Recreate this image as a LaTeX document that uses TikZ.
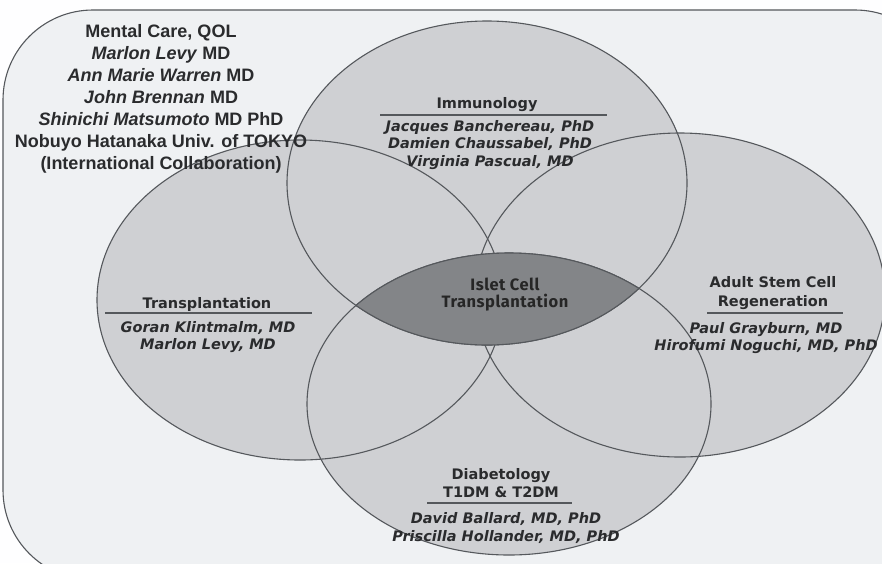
\documentclass[tikz,border=0pt]{standalone}
\usepackage{fontspec}
\setmainfont{Liberation Sans}
\newfontfamily\dvs{DejaVu Sans}[ItalicFont={DejaVu Sans Oblique},BoldFont={DejaVu Sans Bold},BoldItalicFont={DejaVu Sans Bold Oblique}]
\newfontfamily\ctrfont{Fira Sans}[LetterSpace=3]
\definecolor{vfill}{HTML}{CFD0D3}
\definecolor{vline}{HTML}{55585C}
\definecolor{lensfill}{HTML}{838588}
\definecolor{bgin}{HTML}{EFF1F3}
\definecolor{txt}{HTML}{2A2B2D}
\begin{document}
\begin{tikzpicture}[x=1pt,y=-1pt,
  vline/.style={draw=vline,line width=1.1pt},
  rulel/.style={draw=vline,line width=1.3pt},
  heading/.style={font=\dvs\bfseries\fontsize{14.5}{18.5}\selectfont,text=txt,align=center,inner sep=0pt},
  names/.style={font=\dvs\bfseries\itshape\fontsize{14.5}{17.5}\selectfont,text=txt,align=center,inner sep=0pt},
  topblock/.style={font=\bfseries\fontsize{18}{22}\selectfont,text=txt,align=center,inner sep=0pt},
  centre/.style={font=\ctrfont\bfseries\fontsize{16.5}{17}\selectfont,text=black!85,align=center,inner sep=0pt}]
\useasboundingbox (0,0) rectangle (882,563);
\fill[white!97!bgin] (0,0) rectangle (882,563);
\draw[vline,fill=bgin,rounded corners=90pt] (3,10) rectangle (945,580);
% centres
\coordinate (cL) at (300,300);
\coordinate (cR) at (680,295);
\coordinate (cT) at (487,183);
\coordinate (cB) at (509,404);
% fills
\fill[vfill] (cL) ellipse [x radius=203pt,y radius=160pt];
\fill[vfill] (cR) ellipse [x radius=205pt,y radius=162pt];
\fill[vfill] (cT) ellipse [x radius=200pt,y radius=162pt];
\fill[vfill] (cB) ellipse [x radius=202pt,y radius=151pt];
% outlines
\draw[vline] (cL) ellipse [x radius=203pt,y radius=160pt];
\draw[vline] (cR) ellipse [x radius=205pt,y radius=162pt];
\draw[vline] (cT) ellipse [x radius=200pt,y radius=162pt];
\draw[vline] (cB) ellipse [x radius=202pt,y radius=151pt];
% lens
\begin{scope}
\clip (cT) ellipse [x radius=200pt,y radius=162pt];
\fill[lensfill] (cB) ellipse [x radius=202pt,y radius=151pt];
\end{scope}
\begin{scope}
\clip (cB) ellipse [x radius=202pt,y radius=151pt];
\draw[vline] (cT) ellipse [x radius=200pt,y radius=162pt];
\end{scope}
\begin{scope}
\clip (cT) ellipse [x radius=200pt,y radius=162pt];
\draw[vline] (cB) ellipse [x radius=202pt,y radius=151pt];
\end{scope}
% top-left block
\node[topblock] (mental) at (161,99) {Mental Care, QOL\\
\textit{Marlon Levy} MD\\
\textit{Ann Marie Warren} MD\\
\textit{John Brennan} MD\\
\textit{Shinichi Matsumoto} MD PhD\\
Nobuyo Hatanaka Univ. of TOKYO\\
(International Collaboration)};
% Immunology
\node[heading] (imm) at (487,105) {Immunology};
\draw[rulel] (380,115) -- (607,115);
\node[names] (immn) at (490,145) {Jacques Banchereau, PhD\\Damien Chaussabel, PhD\\Virginia Pascual, MD};
% Transplantation
\node[heading] (tra) at (207,304) {Transplantation};
\draw[rulel] (105,313) -- (312,313);
\node[names] (tran) at (208,337) {Goran Klintmalm, MD\\Marlon Levy, MD};
% Adult stem cell
\node[heading] (asc) at (773,293) {Adult Stem Cell\\Regeneration};
\draw[rulel] (707,313) -- (843,313);
\node[names] (ascn) at (766,338) {Paul Grayburn, MD\\Hirofumi Noguchi, MD, PhD};
% Diabetology
\node[heading] (dia) at (501,483) {Diabetology\\T1DM \& T2DM};
\draw[rulel] (427,503) -- (572,503);
\node[names] (dian) at (506,528) {David Ballard, MD, PhD\\Priscilla Hollander, MD, PhD};
% centre
\node[centre] (islet) at (505,295) {Islet Cell\\Transplantation};
\end{tikzpicture}
\end{document}
